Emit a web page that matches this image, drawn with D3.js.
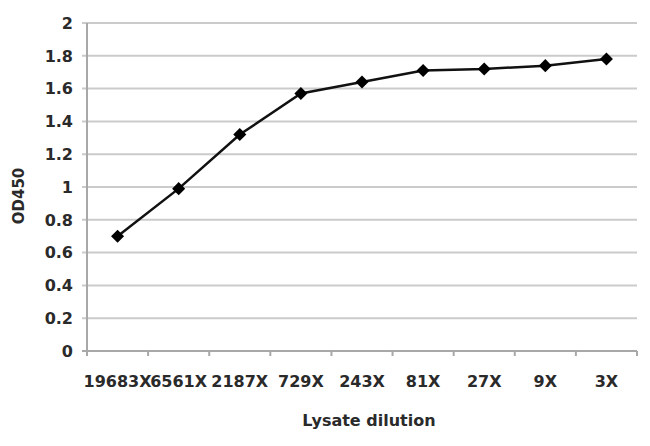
<!DOCTYPE html>
<html>
<head>
<meta charset="utf-8">
<script src="https://cdn.jsdelivr.net/npm/d3@7"></script>
<style>
  html, body { margin: 0; padding: 0; background: #fff; }
  svg { display: block; }
  text { font-family: "DejaVu Sans", Verdana, sans-serif; font-weight: bold; fill: #2a2a2a; }
</style>
</head>
<body>
<svg id="chart" width="650" height="446"></svg>
<script>
const categories = ["19683X", "6561X", "2187X", "729X", "243X", "81X", "27X", "9X", "3X"];
const values = [0.70, 0.99, 1.32, 1.57, 1.64, 1.71, 1.72, 1.74, 1.78];
const yTicks = [0, 0.2, 0.4, 0.6, 0.8, 1, 1.2, 1.4, 1.6, 1.8, 2];
const xTitle = "Lysate dilution";
const yTitle = "OD450";

(function () {
const svg = d3.select("#chart");
const pLeft = 87, pRight = 637, pTop = 23, pBottom = 351;

const x = d3.scaleBand().domain(categories).range([pLeft, pRight]).padding(0);
const y = d3.scaleLinear().domain([0, 2]).range([pBottom, pTop]);

// gridlines
svg.append("g").selectAll("line").data(yTicks.filter(d => d > 0)).join("line")
  .attr("x1", pLeft - 5).attr("x2", pRight)
  .attr("y1", d => y(d)).attr("y2", d => y(d))
  .attr("stroke", "#cbcbcb").attr("stroke-width", 2);

// y axis line
svg.append("line").attr("x1", pLeft).attr("x2", pLeft).attr("y1", pTop).attr("y2", pBottom)
  .attr("stroke", "#a8a8a8").attr("stroke-width", 2);
// x axis
svg.append("line").attr("x1", pLeft - 5).attr("x2", pRight).attr("y1", pBottom).attr("y2", pBottom)
  .attr("stroke", "#a8a8a8").attr("stroke-width", 2);
// x ticks at band boundaries
const bounds = categories.map(c => x(c)).concat([pRight]);
svg.append("g").selectAll("line").data(bounds).join("line")
  .attr("x1", d => d).attr("x2", d => d)
  .attr("y1", pBottom).attr("y2", pBottom + 5)
  .attr("stroke", "#a8a8a8").attr("stroke-width", 2);

// y tick labels
svg.append("g").selectAll("text").data(yTicks).join("text")
  .attr("x", 73).attr("y", d => y(d)).attr("dy", "0.36em")
  .attr("text-anchor", "end").attr("font-size", 16)
  .text(d => d3.format("")(d));

// x tick labels
svg.append("g").selectAll("text").data(categories).join("text")
  .attr("x", d => x(d) + x.bandwidth() / 2).attr("y", 381).attr("dy", "0.36em")
  .attr("text-anchor", "middle").attr("font-size", 16)
  .text(d => d);

// titles
svg.append("text").attr("x", 369).attr("y", 420).attr("dy", "0.36em")
  .attr("text-anchor", "middle").attr("font-size", 16).text(xTitle);
svg.append("text").attr("transform", "translate(19,196) rotate(-90)").attr("dy", "0.36em")
  .attr("text-anchor", "middle").attr("font-size", 15).text(yTitle);

// line
const line = d3.line().x((d, i) => x(categories[i]) + x.bandwidth() / 2).y(d => y(d));
svg.append("path").datum(values).attr("d", line)
  .attr("fill", "none").attr("stroke", "#111").attr("stroke-width", 2.5);

// markers
const sym = d3.symbol().type(d3.symbolSquare).size(85);
svg.append("g").selectAll("path").data(values).join("path")
  .attr("d", sym)
  .attr("transform", (d, i) => `translate(${x(categories[i]) + x.bandwidth() / 2},${y(d)}) rotate(45)`)
  .attr("fill", "#000");
})();
</script>
</body>
</html>
